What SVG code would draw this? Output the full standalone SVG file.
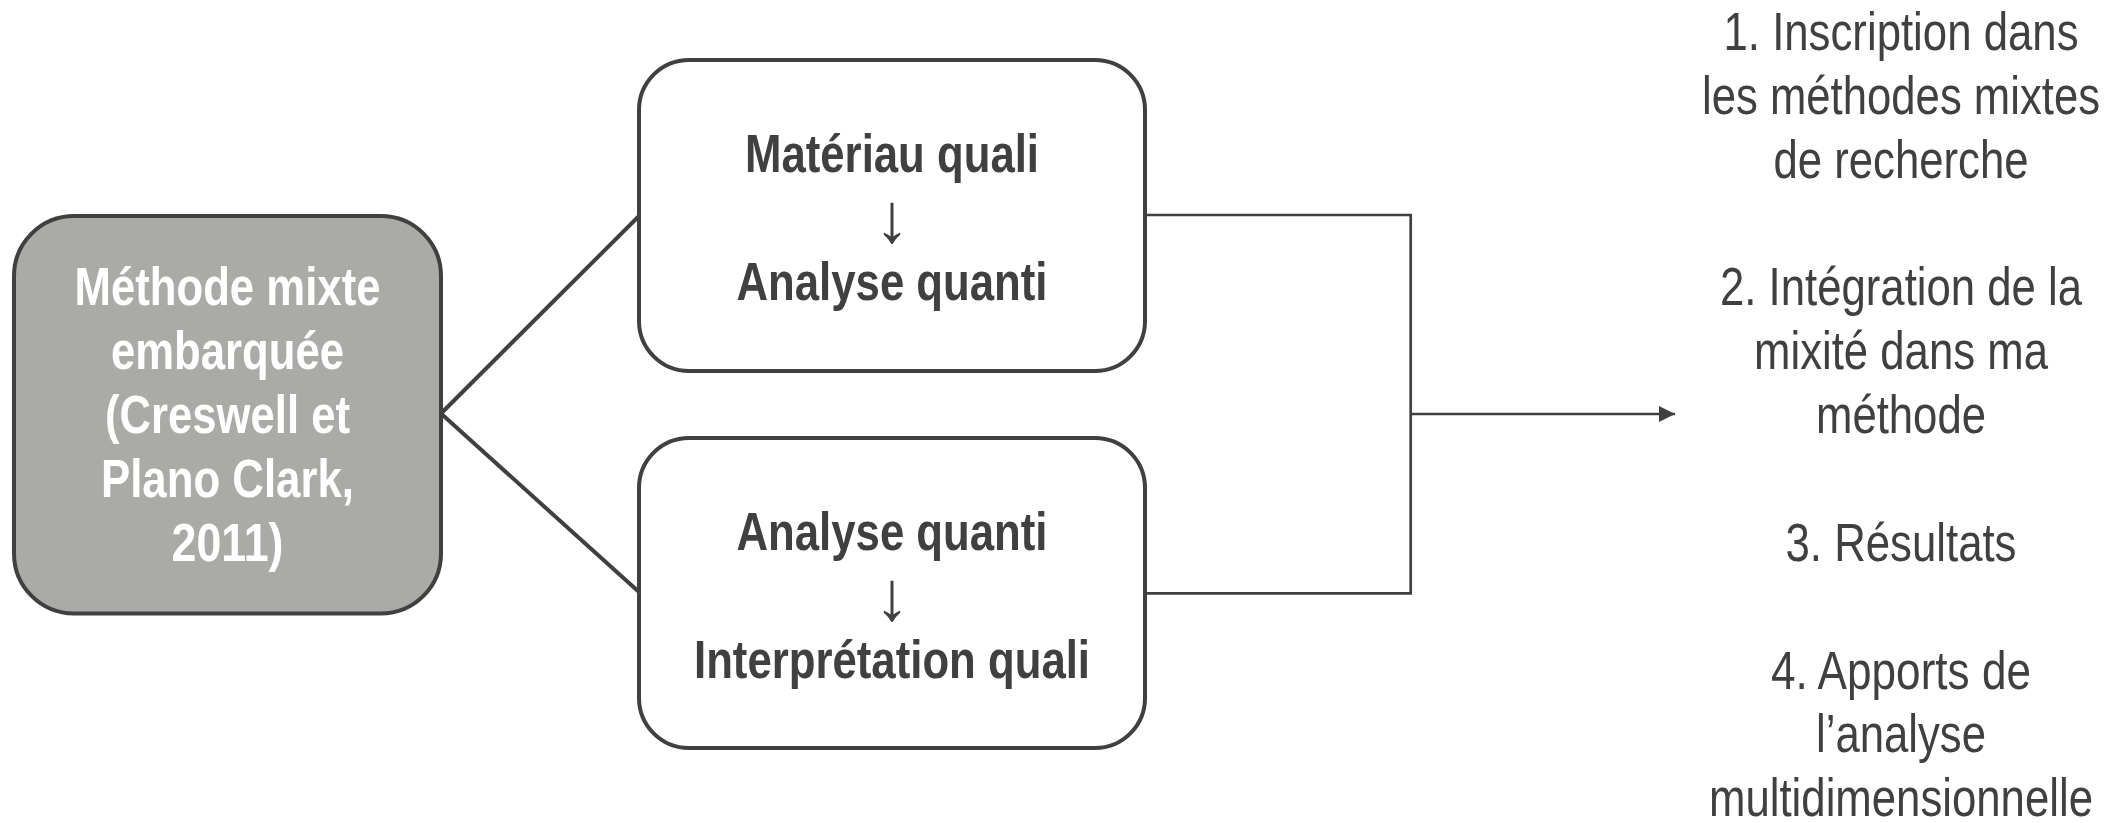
<svg xmlns="http://www.w3.org/2000/svg" width="2122" height="823" viewBox="0 0 2122 823">
  <style>
    .box { fill: #ffffff; stroke: #404040; stroke-width: 4; }
    .main { fill: #AAABA6; stroke: #404040; stroke-width: 4; }
    .t { font-family: "Liberation Sans Narrow", "Arial Narrow", "Liberation Sans", sans-serif; font-size: 53.33px; text-anchor: middle; }
    .b { font-weight: bold; fill: #404040; }
    .w { font-weight: bold; fill: #ffffff; }
    .r { fill: #404040; }
    .arr { font-family: "Liberation Sans", "DejaVu Sans", sans-serif; font-size: 70px; text-anchor: middle; fill: #404040; }
    .thick { fill: none; stroke: #404040; stroke-width: 4; }
    .thin { fill: none; stroke: #404040; stroke-width: 2.7; }
  </style>
  <defs>
    <marker id="head" markerUnits="userSpaceOnUse" markerWidth="16" markerHeight="16" refX="16" refY="8" orient="auto">
      <path d="M0,0 L16,8 L0,16 z" fill="#404040"/>
    </marker>
  </defs>

  <g id="connectors">
    <line class="thick" x1="441" y1="413.5" x2="639" y2="216"/>
    <line class="thick" x1="441" y1="413.5" x2="639" y2="592"/>
    <polyline class="thin" points="1145,215 1410.7,215 1410.7,593.3 1145,593.3"/>
    <line class="thin" x1="1410.7" y1="414" x2="1675" y2="414" marker-end="url(#head)"/>
  </g>

  <g id="node-main">
    <rect class="main" x="14" y="216" width="427" height="397.5" rx="60" ry="60"/>
    <text class="t w" x="227.5" y="304.5" textLength="306" lengthAdjust="spacingAndGlyphs">Méthode mixte</text>
    <text class="t w" x="227.5" y="368.5" textLength="233" lengthAdjust="spacingAndGlyphs">embarquée</text>
    <text class="t w" x="227.5" y="432.5" textLength="245" lengthAdjust="spacingAndGlyphs">(Creswell et</text>
    <text class="t w" x="227.5" y="496.5" textLength="253" lengthAdjust="spacingAndGlyphs">Plano Clark,</text>
    <text class="t w" x="227.5" y="560.5" textLength="112" lengthAdjust="spacingAndGlyphs">2011)</text>
  </g>

  <g id="node-top">
    <rect class="box" x="639" y="60" width="506" height="311" rx="50" ry="50"/>
    <text class="t b" x="892" y="172" textLength="294" lengthAdjust="spacingAndGlyphs">Matériau quali</text>
    <text class="arr" x="892" y="242">↓</text>
    <text class="t b" x="892" y="300" textLength="311" lengthAdjust="spacingAndGlyphs">Analyse quanti</text>
  </g>

  <g id="node-bottom">
    <rect class="box" x="639" y="438" width="506" height="310" rx="50" ry="50"/>
    <text class="t b" x="892" y="550" textLength="311" lengthAdjust="spacingAndGlyphs">Analyse quanti</text>
    <text class="arr" x="892" y="620">↓</text>
    <text class="t b" x="892" y="678" textLength="396" lengthAdjust="spacingAndGlyphs">Interprétation quali</text>
  </g>

  <g id="node-outcomes">
    <text class="t r" x="1901" y="50" textLength="355" lengthAdjust="spacingAndGlyphs">1. Inscription dans</text>
    <text class="t r" x="1901" y="113.9" textLength="398" lengthAdjust="spacingAndGlyphs">les méthodes mixtes</text>
    <text class="t r" x="1901" y="177.7" textLength="255" lengthAdjust="spacingAndGlyphs">de recherche</text>
    <text class="t r" x="1901" y="305.4" textLength="362" lengthAdjust="spacingAndGlyphs">2. Intégration de la</text>
    <text class="t r" x="1901" y="369.3" textLength="294" lengthAdjust="spacingAndGlyphs">mixité dans ma</text>
    <text class="t r" x="1901" y="433.1" textLength="170" lengthAdjust="spacingAndGlyphs">méthode</text>
    <text class="t r" x="1901" y="560.8" textLength="231" lengthAdjust="spacingAndGlyphs">3. Résultats</text>
    <text class="t r" x="1901" y="688.5" textLength="260" lengthAdjust="spacingAndGlyphs">4. Apports de</text>
    <text class="t r" x="1901" y="752.4" textLength="170" lengthAdjust="spacingAndGlyphs">l’analyse</text>
    <text class="t r" x="1901" y="816.2" textLength="384" lengthAdjust="spacingAndGlyphs">multidimensionnelle</text>
  </g>
</svg>
